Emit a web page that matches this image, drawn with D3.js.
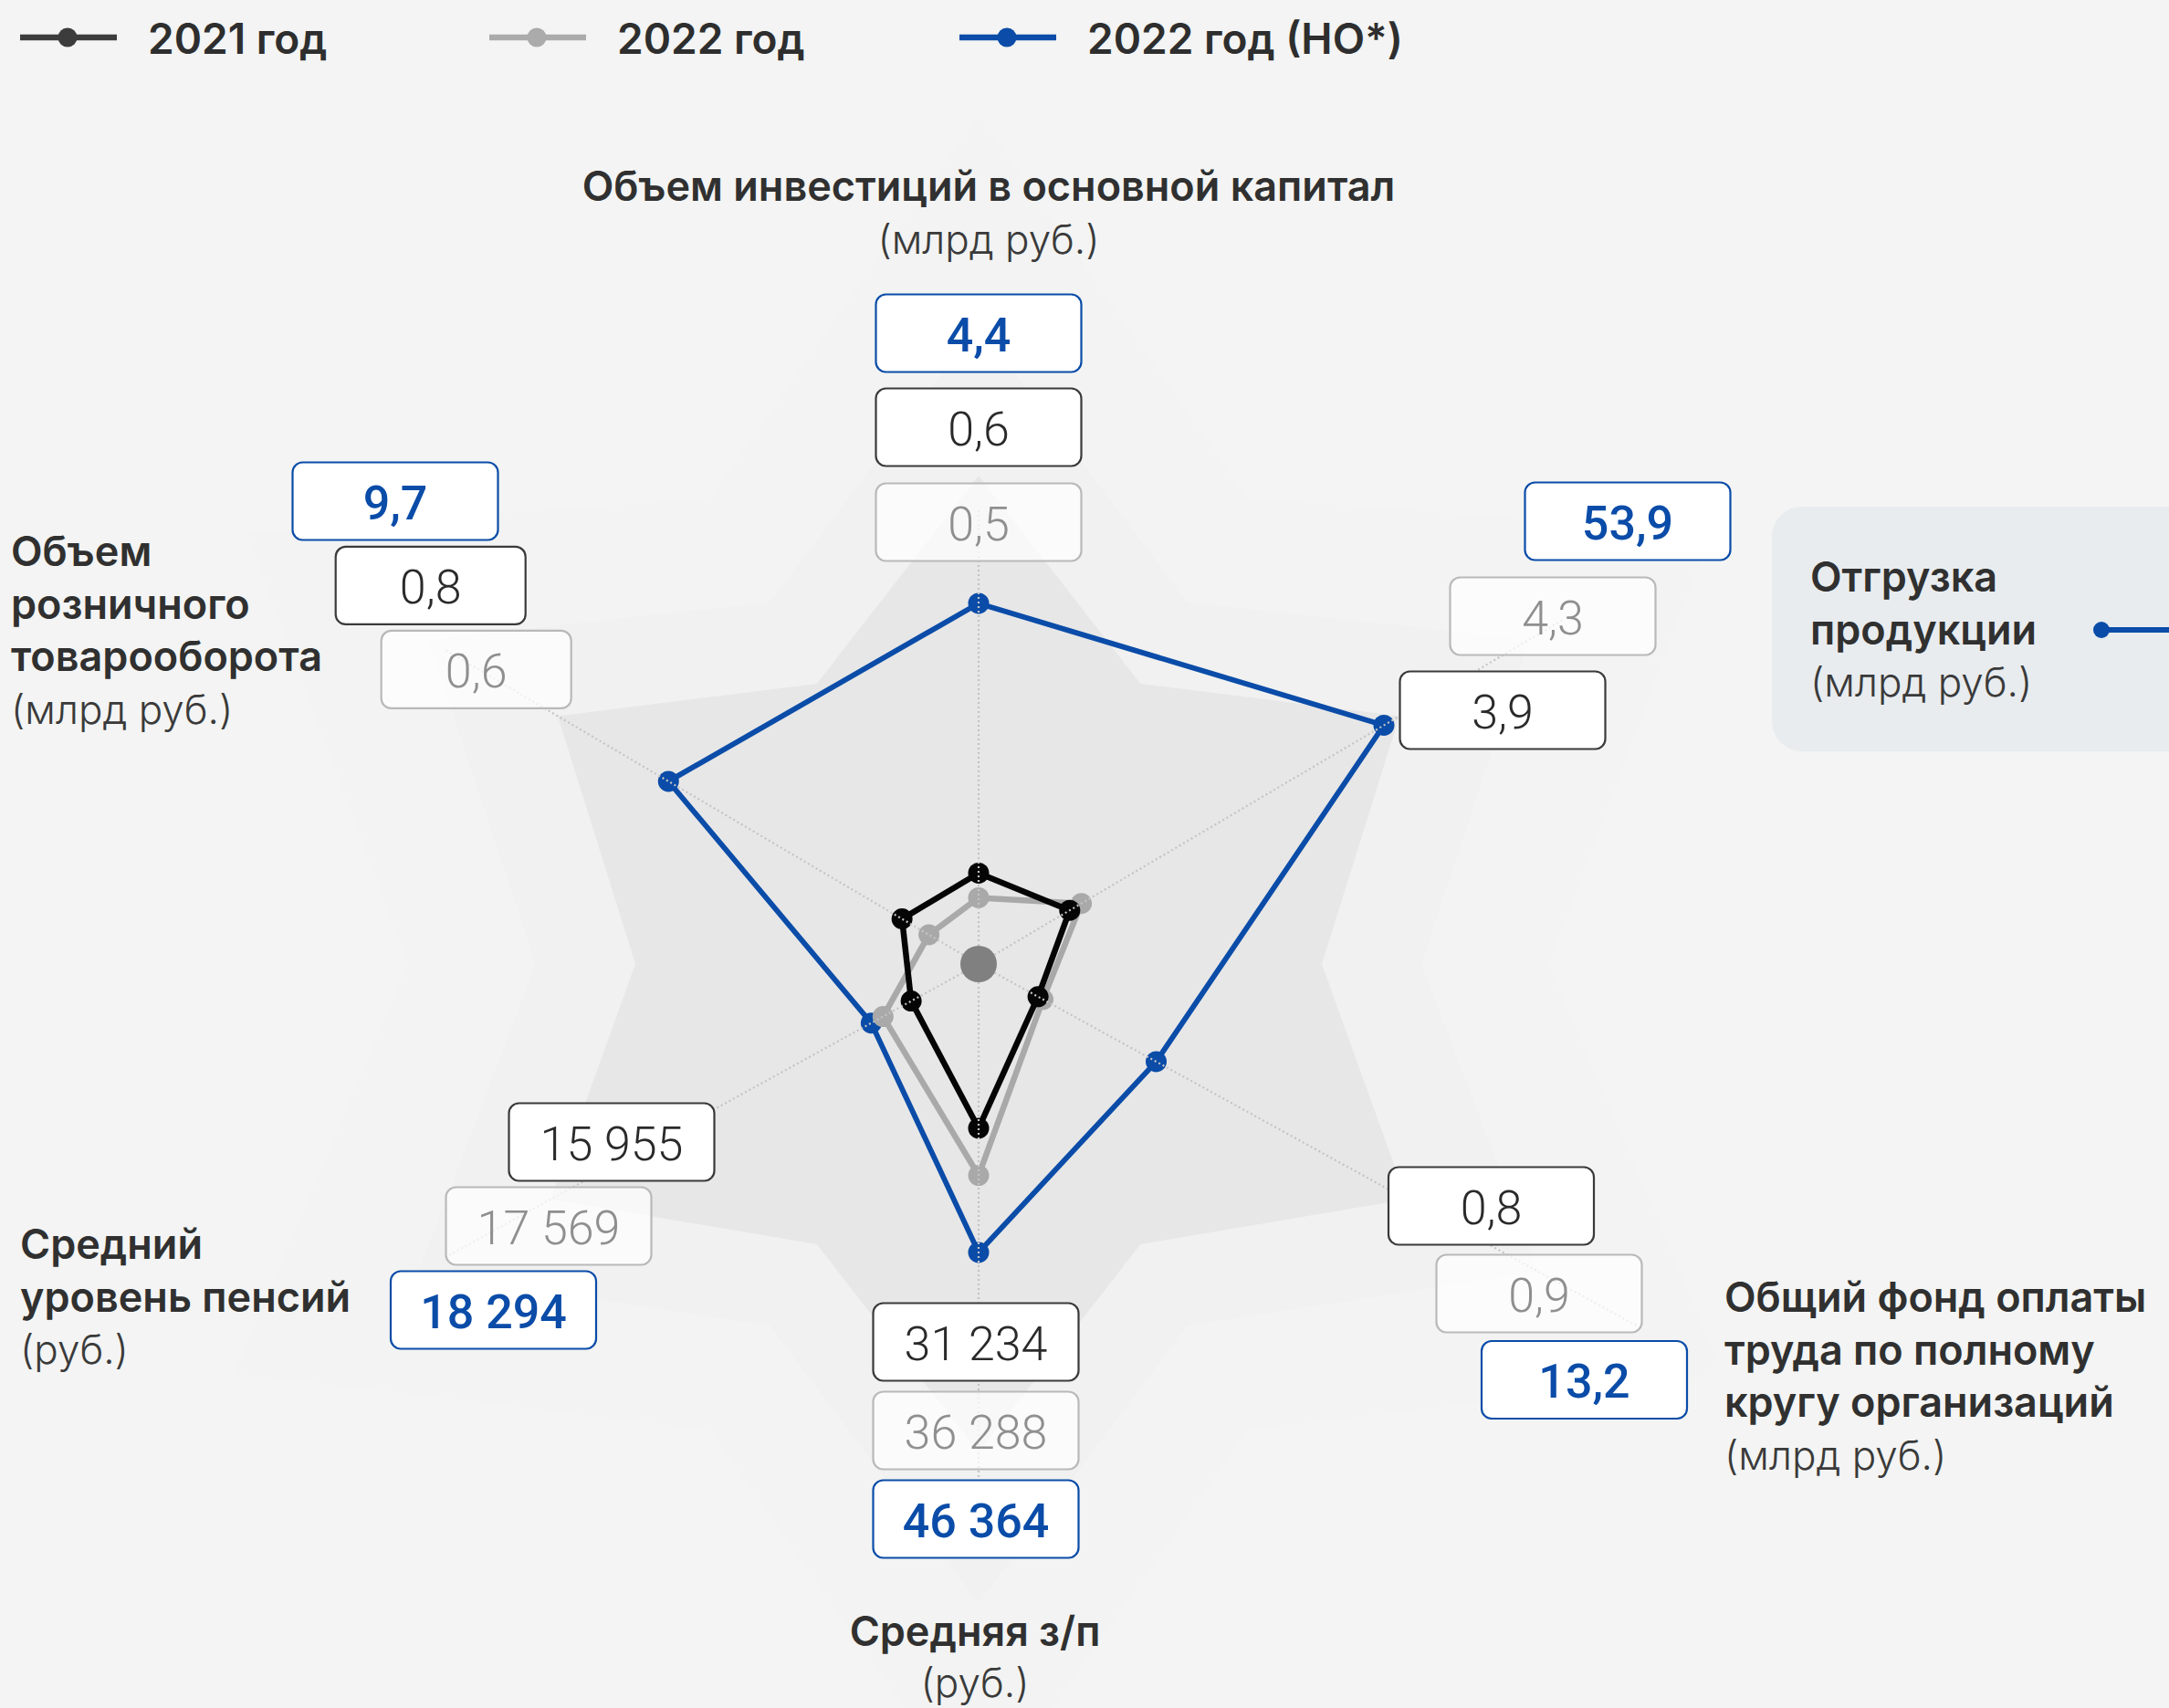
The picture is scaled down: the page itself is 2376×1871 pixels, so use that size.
<!DOCTYPE html>
<html><head><meta charset="utf-8">
<script src="https://cdn.jsdelivr.net/npm/d3@7"></script>
<style>html,body{margin:0;padding:0;background:#f3f4f3;} svg{display:block}</style>
</head><body>
<svg id="chart" width="2376" height="1871"></svg>
<script>
// ---------------- DATA ----------------
const axisTitleLines = [
  ["Объем инвестиций в основной капитал"],
  ["Отгрузка", "продукции"],
  ["Общий фонд оплаты", "труда по полному", "кругу организаций"],
  ["Средняя з/п"],
  ["Средний", "уровень пенсий"],
  ["Объем", "розничного", "товарооборота"]
];
const axisUnits = ["(млрд руб.)", "(млрд руб.)", "(млрд руб.)", "(руб.)", "(руб.)", "(млрд руб.)"];
const seriesNames = ["2021 год", "2022 год", "2022 год (НО*)"];
const values2021   = [0.6, 3.9, 0.8, 31234, 15955, 0.8];
const values2022   = [0.5, 4.3, 0.9, 36288, 17569, 0.6];
const values2022NO = [4.4, 53.9, 13.2, 46364, 18294, 9.7];
// per-axis log-scale domains (value at centre, value at outer radius)
const axisDomainMin = [0.3066, 1.821, 0.1953, 18521, 12663, 0.353];
const axisDomainMax = [8.93, 48.75, 2586, 79120, 49860, 23.58];
const axisFormat = [".1f", ".1f", ".1f", ",d", ",d", ".1f"];

// ---------------- LAYOUT / STYLE ----------------
const W = 2376, H = 1871;
const cx = 1072, cy = 1056, R = 500;
const axisAngleDeg = [0, 59.5, 118.8, 180, 241.2, 300.5];
const axisLineLen = [500, 744, 823, 562, 665, 680];
// label box centres per axis: [2021, 2022, НО]
const boxCentres = [
  [[1072, 468], [1072, 572], [1072, 365]],
  [[1646, 778], [1701, 675], [1783, 571]],
  [[1633.5, 1321], [1686, 1417], [1735.5, 1511.5]],
  [[1069, 1470], [1069, 1567], [1069, 1664]],
  [[670, 1251], [601, 1343], [540.5, 1435]],
  [[471.7, 641.4], [521.7, 733.4], [433, 549]]
];
const boxWidths = [[225,225,225],[225,225,225],[225,225,225],[225,225,225],[225,225,225],[208,208,225]];
const boxH = 85;
// title blocks: x, anchor, first baseline
const titleLayout = [
  {x: 1083, anchor: "middle", y: 220},
  {x: 1983, anchor: "start", y: 648},
  {x: 1889, anchor: "start", y: 1437},
  {x: 1068, anchor: "middle", y: 1803},
  {x: 22, anchor: "start", y: 1379},
  {x: 12, anchor: "start", y: 620}
];
const lineStep = 57.5;

const style = [
  {line: "#050505", legend: "#3c3c3c", width: 6.5, box: "#3a3a3a", text: "#2a2a2a", weight: 300, fillOp: 1},
  {line: "#a9a9a9", legend: "#ababab", width: 6.5, box: "#b9b9b9", text: "#8f8f8f", weight: 300, fillOp: 0.72},
  {line: "#0a4ca8", legend: "#0a4ca8", width: 5.8, box: "#0a4ca8", text: "#0a4ca8", weight: 600, fillOp: 1}
];
const titleFont = "Inter, 'Noto Sans', sans-serif";
const numFont = "Roboto, Inter, sans-serif";

// ---------------- DRAW ----------------
const svg = d3.select("#chart");
svg.append("rect").attr("width", W).attr("height", H).attr("fill", "#f3f4f3");

const rad = d => d * Math.PI / 180;
const series = [values2021, values2022, values2022NO];
const scales = axisDomainMin.map((m, i) => d3.scaleLog().domain([m, axisDomainMax[i]]).range([0, R]));
const ru = d3.formatLocale({decimal: ",", thousands: "\u00a0", grouping: [3], currency: ["", ""]});
const fmt = axisFormat.map(f => ru.format(f));

const g = svg.append("g").attr("transform", `translate(${cx},${cy})`);

// decorative background stars
const starLayers = [
  {tip: 930, concave: 625, fill: "#f2f3f2"},
  {tip: 700, concave: 485, fill: "#f0f1f0"},
  {tip: 535, concave: 376, fill: "#e7e7e7"}
];
const starLine = d3.lineRadial().angle(d => d[0]).radius(d => d[1]).curve(d3.curveLinearClosed);
starLayers.forEach(L => {
  const pts = [];
  for (let k = 0; k < 6; k++) {
    pts.push([rad(axisAngleDeg[k]), L.tip]);
    const mid = k * 60 + 30;
    const side = (mid === 90 || mid === 270) ? 1 : 0.943;
    pts.push([rad(mid), L.concave * side]);
  }
  g.append("path").attr("d", starLine(pts)).attr("fill", L.fill);
});

const radial = d3.lineRadial().angle(d => d[0]).radius(d => d[1]);

// polygons
const drawOrder = [2, 1, 0];
const polyLine = d3.lineRadial().angle(d => d.a).radius(d => d.r).curve(d3.curveLinearClosed);
drawOrder.forEach(si => {
  const pts = series[si].map((v, i) => ({a: rad(axisAngleDeg[i]), r: scales[i](v)}));
  g.append("path").attr("d", polyLine(pts)).attr("fill", "none")
    .attr("stroke", style[si].line).attr("stroke-width", style[si].width).attr("stroke-linejoin", "round");
  g.selectAll(null).data(pts).enter().append("circle")
    .attr("cx", d => d.r * Math.sin(d.a)).attr("cy", d => -d.r * Math.cos(d.a))
    .attr("r", 11.5).attr("fill", style[si].line);
});

// dotted axis lines on top of markers
axisAngleDeg.forEach((a, i) => {
  g.append("path").attr("d", radial([[rad(a), 0], [rad(a), axisLineLen[i]]]))
    .attr("stroke", "#c4c4c4").attr("stroke-width", 2.2).attr("stroke-dasharray", "2 3").attr("fill", "none");
});
g.append("circle").attr("r", 20).attr("fill", "#808080");

// value boxes
axisAngleDeg.forEach((a, i) => {
  [0, 1, 2].forEach(si => {
    const [bx, by] = boxCentres[i][si];
    const bw = boxWidths[i][si];
    const bg = svg.append("g");
    bg.append("rect").attr("x", bx - bw / 2).attr("y", by - boxH / 2).attr("width", bw).attr("height", boxH)
      .attr("rx", 11).attr("fill", "#ffffff").attr("fill-opacity", style[si].fillOp)
      .attr("stroke", style[si].box).attr("stroke-width", 2.2);
    bg.append("text").attr("x", bx).attr("y", by + 19.5).attr("text-anchor", "middle")
      .attr("font-family", numFont).attr("font-size", 52).attr("font-weight", si === 2 ? 500 : 300)
      .attr("fill", style[si].text).text(fmt[i](series[si][i]));
  });
});

// right legend panel for "Отгрузка продукции"
svg.insert("rect", "g").attr("x", 1941).attr("y", 555).attr("width", 520).attr("height", 268).attr("rx", 33).attr("fill", "#e8ecef");
svg.append("line").attr("x1", 2302).attr("x2", W).attr("y1", 690).attr("y2", 690).attr("stroke", style[2].line).attr("stroke-width", 6);
svg.append("circle").attr("cx", 2302).attr("cy", 690).attr("r", 9).attr("fill", style[2].line);

// axis titles
axisTitleLines.forEach((lines, i) => {
  const L = titleLayout[i];
  const t = svg.append("g");
  lines.forEach((ln, j) => {
    t.append("text").attr("x", L.x).attr("y", L.y + j * lineStep).attr("text-anchor", L.anchor)
      .attr("font-family", titleFont).attr("font-size", 45).attr("font-weight", 600).attr("fill", "#303030").text(ln);
  });
  t.append("text").attr("x", L.x).attr("y", L.y + lines.length * lineStep - (i === 3 ? 2 : 0)).attr("text-anchor", L.anchor)
    .attr("font-family", titleFont).attr("font-size", 44).attr("font-weight", 300).attr("fill", "#3a3a3a").text(axisUnits[i]);
});

// top legend
const legX = [22, 536, 1051];
seriesNames.forEach((n, si) => {
  const x0 = legX[si];
  svg.append("line").attr("x1", x0).attr("x2", x0 + 106).attr("y1", 41).attr("y2", 41)
    .attr("stroke", style[si].legend).attr("stroke-width", 6.5);
  svg.append("circle").attr("cx", x0 + 52).attr("cy", 41).attr("r", 10.5).attr("fill", style[si].legend);
  svg.append("text").attr("x", x0 + 140).attr("y", 59).attr("font-family", titleFont).attr("font-size", 46)
    .attr("font-weight", 600).attr("fill", "#2e2e2e").text(n);
});
</script>
</body></html>
